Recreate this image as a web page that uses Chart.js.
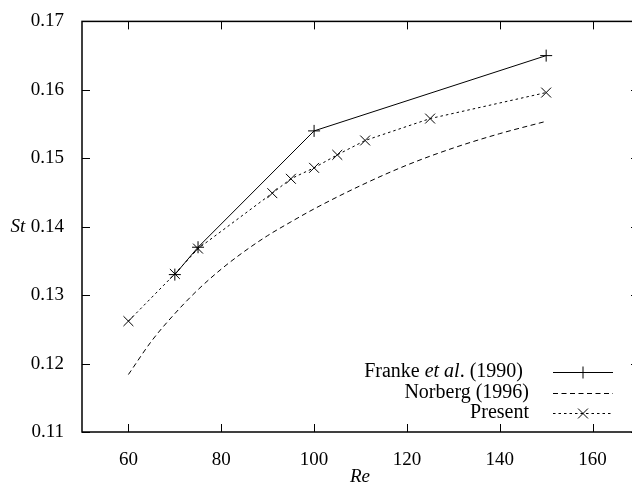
<!DOCTYPE html>
<html>
<head>
<meta charset="utf-8">
<script src="https://cdn.jsdelivr.net/npm/chart.js@4/dist/chart.umd.min.js"></script>
<style>
  html, body { margin: 0; padding: 0; background: #fff; overflow: hidden; }
</style>
</head>
<body>
<canvas id="stChart" width="632" height="488"></canvas>
<script>
// Strouhal number vs Reynolds number
const frankeRe = [70, 75, 100, 150];
const frankeSt = [0.133, 0.137, 0.154, 0.165];

const norbergRe = [60, 65, 70, 75, 80, 85, 90, 95, 100, 110, 120, 130, 140, 150];
const norbergSt = [0.1184, 0.1233, 0.1273, 0.1308, 0.1338, 0.1364, 0.1387, 0.1407, 0.1426, 0.1460, 0.1490, 0.1515, 0.1536, 0.1554];

const presentRe = [60, 70, 75, 91, 95, 100, 105, 111, 125, 150];
const presentSt = [0.1262, 0.1331, 0.1368, 0.1449, 0.1470, 0.1486, 0.1505, 0.1526, 0.1558, 0.1596];

const xTickValues = [60, 80, 100, 120, 140, 160];
const yTickValues = [0.11, 0.12, 0.13, 0.14, 0.15, 0.16, 0.17];

const labels = ['Franke et al. (1990)', 'Norberg (1996)', 'Present'];

const serif = '"Liberation Serif", LiberationSerif, Tinos, "Noto Serif", "DejaVu Serif", FreeSerif, "Times New Roman", Times, serif';

function toPoints(xs, ys) {
    return xs.map((x, i) => ({ x: x, y: ys[i] }));
}

Chart.defaults.font.family = serif;
Chart.defaults.color = '#000';

// the frame's right edge (Re = 170) lies a few pixels past the picture
const stretchPlugin = {
    id: 'stretchPlugin',
    afterLayout(chart) {
        const xs = chart.scales.x;
        const right = 639;
        chart.chartArea.right = right;
        chart.chartArea.width = right - chart.chartArea.left;
        xs.right = right;
        xs.width = right - xs.left;
        xs.configure();
    }
};

// frame, inward ticks, axis titles and legend
const framePlugin = {
    id: 'framePlugin',
    afterDraw(chart) {
        const ctx = chart.ctx;
        const a = chart.chartArea;
        const xs = chart.scales.x;
        const ys = chart.scales.y;
        const tl = 8;
        ctx.save();
        ctx.strokeStyle = '#000';
        ctx.lineWidth = 1.5;
        ctx.strokeRect(a.left, a.top, a.right - a.left, a.bottom - a.top);
        ctx.lineWidth = 1;
        ctx.beginPath();
        xTickValues.forEach(v => {
            const px = Math.round(xs.getPixelForValue(v)) + 0.5;
            ctx.moveTo(px, a.bottom); ctx.lineTo(px, a.bottom - tl);
            ctx.moveTo(px, a.top); ctx.lineTo(px, a.top + tl);
        });
        yTickValues.forEach(v => {
            const py = Math.round(ys.getPixelForValue(v)) + 0.5;
            ctx.moveTo(a.left, py); ctx.lineTo(a.left + tl, py);
            ctx.moveTo(a.right, py); ctx.lineTo(a.right - tl, py);
        });
        ctx.stroke();

        // axis titles
        ctx.fillStyle = '#000';
        ctx.font = 'italic 19px ' + serif;
        ctx.textBaseline = 'middle';
        ctx.textAlign = 'center';
        ctx.fillText('Re', 360, 477);
        ctx.fillText('St', 18, ys.getPixelForValue(0.14));

        // legend
        const rows = [372, 393, 413];
        const textRight = [523, 529, 529];
        const lineL = 553, lineR = 613, mark = 583;
        const lf = '20px ' + serif;
        chart.data.datasets.forEach((ds, i) => {
            const y = rows[i];
            ctx.textAlign = 'right';
            ctx.font = lf;
            const lab = ds.label;
            const k = lab.indexOf('et al');
            if (k >= 0) {
                const p1 = lab.slice(0, k);
                const p2 = 'et al';
                const p3 = lab.slice(k + 5);
                let x = textRight[i];
                ctx.fillText(p3, x, y);
                x -= ctx.measureText(p3).width;
                ctx.font = 'italic ' + lf;
                ctx.fillText(p2, x, y);
                x -= ctx.measureText(p2).width;
                ctx.font = lf;
                ctx.fillText(p1, x, y);
            } else {
                ctx.fillText(lab, textRight[i], y);
            }
            const py = Math.round(y) + 0.5;
            ctx.setLineDash(ds.borderDash || []);
            ctx.lineWidth = ds.borderWidth;
            ctx.beginPath();
            ctx.moveTo(lineL, py); ctx.lineTo(lineR, py);
            ctx.stroke();
            ctx.setLineDash([]);
            const r = ds.pointRadius;
            if (r > 0) {
                ctx.beginPath();
                if (ds.pointStyle === 'cross') {
                    ctx.moveTo(mark - r, py); ctx.lineTo(mark + r, py);
                    ctx.moveTo(mark, py - r); ctx.lineTo(mark, py + r);
                } else {
                    const d = r * Math.SQRT1_2;
                    ctx.moveTo(mark - d, py - d); ctx.lineTo(mark + d, py + d);
                    ctx.moveTo(mark - d, py + d); ctx.lineTo(mark + d, py - d);
                }
                ctx.stroke();
            }
        });
        ctx.restore();
    }
};

const data = {
    datasets: [
        {
            label: labels[0],
            data: toPoints(frankeRe, frankeSt),
            showLine: true,
            borderColor: '#000',
            borderWidth: 1,
            borderDash: [],
            pointStyle: 'cross',
            pointRadius: 6,
            pointBorderColor: '#000',
            pointBorderWidth: 1,
            tension: 0
        },
        {
            label: labels[1],
            data: toPoints(norbergRe, norbergSt),
            showLine: true,
            borderColor: '#000',
            borderWidth: 1,
            borderDash: [5, 3.5],
            pointRadius: 0,
            cubicInterpolationMode: 'monotone'
        },
        {
            label: labels[2],
            data: toPoints(presentRe, presentSt),
            showLine: true,
            borderColor: '#000',
            borderWidth: 1,
            borderDash: [2.5, 3],
            pointStyle: 'crossRot',
            pointRadius: 7,
            pointBorderColor: '#000',
            pointBorderWidth: 1,
            tension: 0
        }
    ]
};

const config = {
    type: 'scatter',
    data,
    options: {
        responsive: false,
        animation: false,
        layout: { padding: { top: 12, right: 0, left: 0, bottom: 0 } },
        plugins: {
            legend: { display: false },
            tooltip: { enabled: false }
        },
        scales: {
            x: {
                type: 'linear',
                min: 50,
                max: 170,
                grid: { display: false },
                border: { display: false },
                ticks: {
                    font: { size: 19, family: serif },
                    color: '#000',
                    padding: 9,
                    maxRotation: 0
                },
                afterBuildTicks(scale) {
                    scale.ticks = xTickValues.map(v => ({ value: v }));
                },
                afterFit(scale) { scale.height = 56; }
            },
            y: {
                type: 'linear',
                min: 0.11,
                max: 0.17,
                grid: { display: false },
                border: { display: false },
                ticks: {
                    font: { size: 19, family: serif },
                    color: '#000',
                    padding: 10,
                    callback: v => v.toFixed(2)
                },
                afterBuildTicks(scale) {
                    scale.ticks = yTickValues.map(v => ({ value: v }));
                },
                afterFit(scale) { scale.width = 82; }
            }
        }
    },
    plugins: [stretchPlugin, framePlugin]
};

const stChart = new Chart(document.getElementById('stChart'), config);
</script>
</body>
</html>
